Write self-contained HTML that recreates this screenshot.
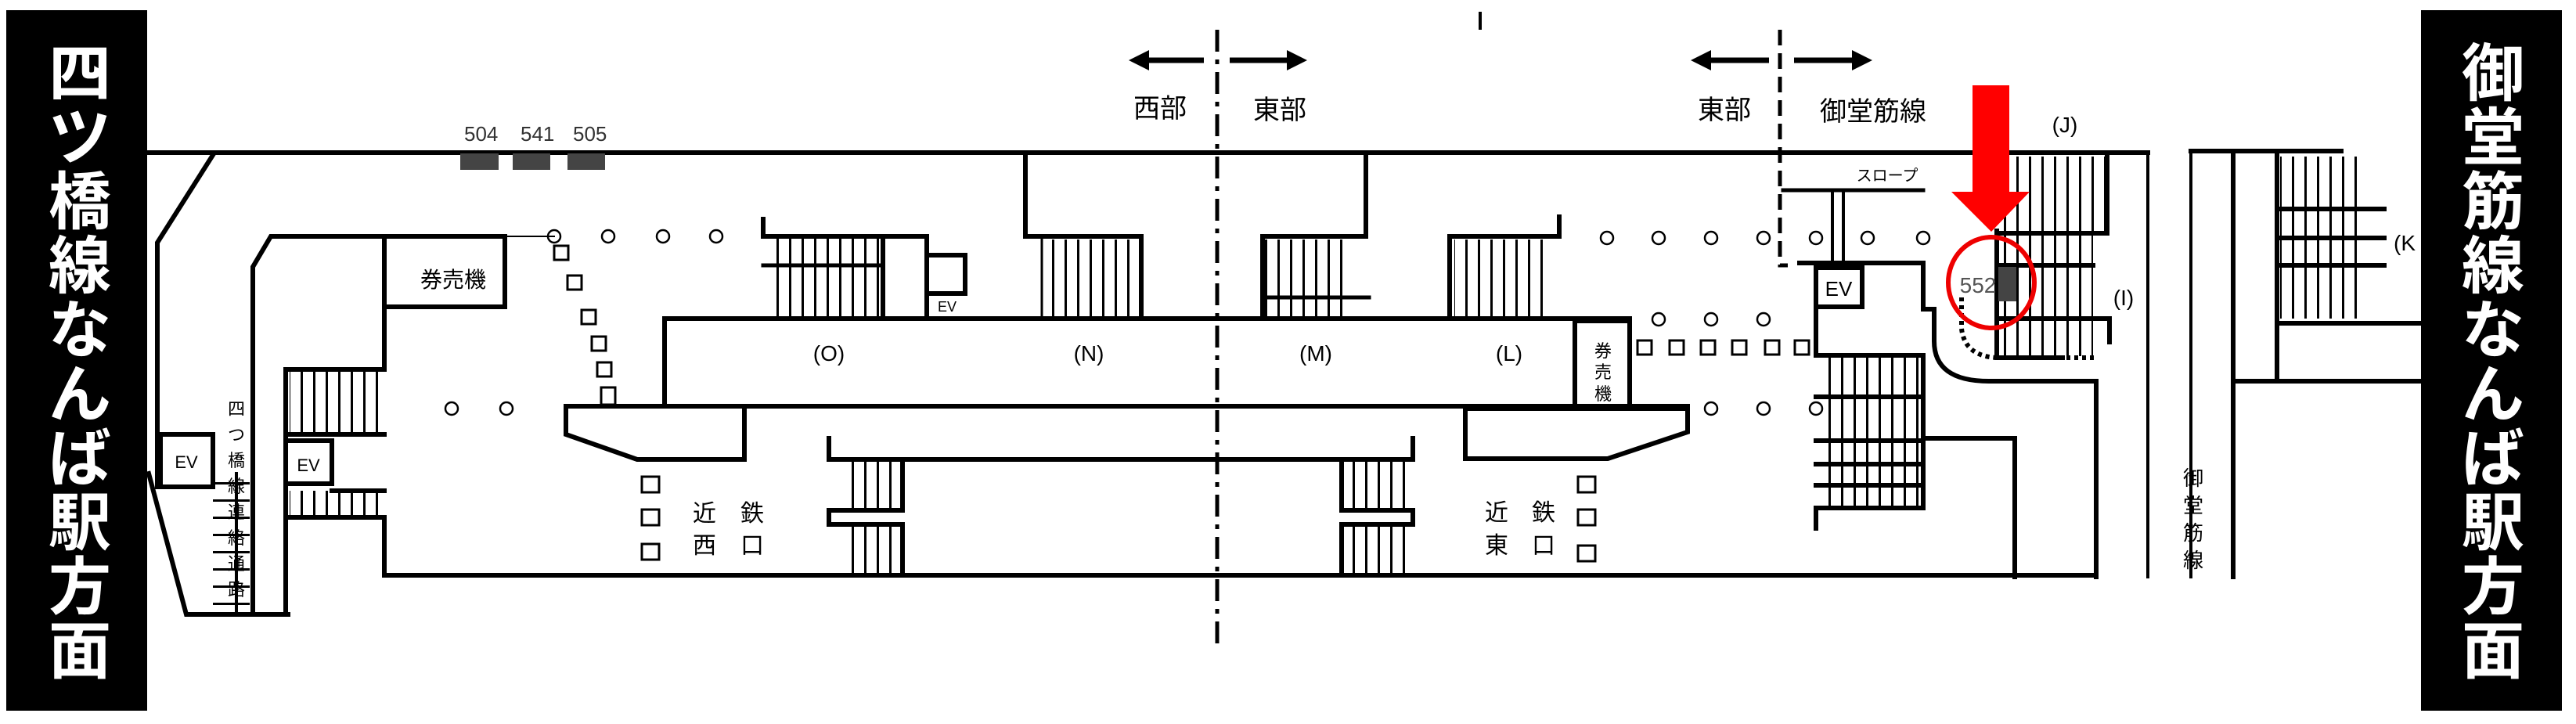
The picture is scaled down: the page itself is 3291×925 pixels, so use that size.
<!DOCTYPE html>
<html><head><meta charset="utf-8"><style>
html,body{margin:0;padding:0;background:#fff;}
svg{display:block;}
text{font-family:"Liberation Sans","Noto Sans CJK JP",sans-serif;}
</style></head><body>
<svg width="3291" height="925" viewBox="0 0 3291 925" xmlns="http://www.w3.org/2000/svg">
<defs>
<pattern id="vs" width="16" height="10" patternUnits="userSpaceOnUse"><rect x="0" y="0" width="3" height="10" fill="#000"/></pattern>
<pattern id="hs" width="10" height="22" patternUnits="userSpaceOnUse"><rect x="0" y="0" width="10" height="3" fill="#000"/></pattern>
</defs>
<rect width="3291" height="925" fill="#fff"/>

<rect x="8" y="13" width="180" height="895" fill="#000"/>
<rect x="3093" y="13" width="180" height="895" fill="#000"/>
<g fill="#fff" font-size="80" font-weight="bold" text-anchor="middle">
<text x="102" y="122">四</text><text x="102" y="204">ツ</text><text x="102" y="286">橋</text><text x="102" y="368">線</text><text x="102" y="450">な</text><text x="102" y="532">ん</text><text x="102" y="614">ば</text><text x="102" y="696">駅</text><text x="102" y="778">方</text><text x="102" y="860">面</text>
<text x="3185" y="122">御</text><text x="3185" y="204">堂</text><text x="3185" y="286">筋</text><text x="3185" y="368">線</text><text x="3185" y="450">な</text><text x="3185" y="532">ん</text><text x="3185" y="614">ば</text><text x="3185" y="696">駅</text><text x="3185" y="778">方</text><text x="3185" y="860">面</text>
</g>

<g>
<rect x="370" y="475" width="121" height="80" fill="url(#vs)"/>
<rect x="370" y="627" width="121" height="34" fill="url(#vs)"/>
<rect x="980" y="302" width="148" height="105" fill="url(#vs)"/>
<rect x="1331" y="306" width="125" height="101" fill="url(#vs)"/>
<rect x="1616" y="306" width="110" height="101" fill="url(#vs)"/>
<rect x="1858" y="306" width="122" height="101" fill="url(#vs)"/>
<rect x="1075" y="590" width="78" height="62" fill="url(#vs)"/>
<rect x="1075" y="670" width="78" height="64" fill="url(#vs)"/>
<rect x="1716" y="590" width="84" height="62" fill="url(#vs)"/>
<rect x="1716" y="670" width="84" height="64" fill="url(#vs)"/>
<rect x="2334" y="457" width="120" height="190" fill="url(#vs)"/>
<rect x="2555" y="200" width="137" height="98" fill="url(#vs)"/>
<rect x="2555" y="300" width="119" height="155" fill="url(#vs)"/>
<rect x="2913" y="200" width="108" height="207" fill="url(#vs)"/>
<rect x="272" y="605" width="47" height="180" fill="url(#hs)"/>
</g>

<g fill="none" stroke="#000" stroke-width="6" stroke-linecap="square">
<line x1="188" y1="195" x2="2744" y2="195"/>
<line x1="491" y1="735" x2="2678" y2="735"/>
<polyline points="272,198 201,310 201,622"/>
<polyline points="190,605 238,785 368,785"/>
<line x1="302" y1="605" x2="302" y2="785" stroke-width="4"/>
<rect x="205" y="555" width="67" height="67"/>
<polyline points="323,785 323,341 346,302 645,302"/>
<line x1="645" y1="302" x2="708" y2="302" stroke-width="2"/>
<line x1="365" y1="472" x2="365" y2="785"/>
<rect x="491" y="302" width="154" height="90"/>
<line x1="491" y1="392" x2="491" y2="472"/>
<line x1="365" y1="472" x2="491" y2="472"/>
<line x1="365" y1="555" x2="491" y2="555"/>
<rect x="365" y="563" width="59" height="55"/>
<line x1="424" y1="627" x2="491" y2="627"/>
<line x1="365" y1="661" x2="491" y2="661"/>
<line x1="491" y1="661" x2="491" y2="735"/>
<polyline points="849,519 849,407 2082,407 2082,519"/>
<line x1="723" y1="519" x2="2156" y2="519"/>
<polygon points="723,519 951,519 951,587 814,587 723,555"/>
<polygon points="1872,522 2156,522 2156,552 2054,586 1872,586"/>
<rect x="2012" y="410" width="70" height="109"/>
<polyline points="975,280 975,302 1128,302"/>
<line x1="975" y1="339" x2="1128" y2="339" stroke-width="5"/>
<rect x="1128" y="302" width="56" height="105"/>
<rect x="1184" y="326" width="49" height="49"/>
<polyline points="1310,198 1310,302 1458,302 1458,407"/>
<line x1="1331" y1="306" x2="1331" y2="407" stroke-width="3"/>
<polyline points="1745,198 1745,302 1613,302 1613,407"/>
<line x1="1616" y1="380" x2="1749" y2="380" stroke-width="5"/>
<polyline points="1852,407 1852,302 1992,302 1992,277"/>
<polyline points="1059,560 1059,587 1805,587 1805,560"/>
<polyline points="1153,587 1153,652 1059,652 1059,670 1153,670 1153,735"/>
<polyline points="1714,587 1714,652 1805,652 1805,670 1714,670 1714,735"/>
<path d="M2299,336 L2457,336 L2457,395 L2471,395 L2471,436 Q2471,487 2541,487 L2678,487 L2678,737"/>
<rect x="2320" y="342" width="59" height="50"/>
<polyline points="2320,336 2320,454 2457,454 2457,649 2320,649 2320,675"/>
<line x1="2320" y1="507" x2="2457" y2="507"/>
<line x1="2320" y1="563" x2="2457" y2="563"/>
<line x1="2320" y1="593" x2="2457" y2="593"/>
<line x1="2320" y1="620" x2="2457" y2="620"/>
<polyline points="2457,560 2574,560 2574,737"/>
<line x1="2278" y1="243" x2="2457" y2="243" stroke-width="5"/>
<line x1="2341" y1="243" x2="2341" y2="333" stroke-width="4"/>
<line x1="2355" y1="243" x2="2355" y2="333" stroke-width="4"/>
<line x1="2551" y1="295" x2="2551" y2="457"/>
<polyline points="2551,298 2692,298 2692,198"/>
<line x1="2555" y1="339" x2="2674" y2="339"/>
<polyline points="2551,407 2695,407 2695,437"/>
<line x1="2551" y1="457" x2="2635" y2="457"/>
<line x1="2744" y1="195" x2="2744" y2="737" stroke-width="4"/>
<line x1="2799" y1="193" x2="2991" y2="193"/>
<line x1="2799" y1="193" x2="2799" y2="737" stroke-width="4"/>
<line x1="2853" y1="198" x2="2853" y2="737"/>
<line x1="2909" y1="198" x2="2909" y2="487"/>
<line x1="2909" y1="267" x2="3046" y2="267"/>
<line x1="2909" y1="304" x2="3046" y2="304"/>
<line x1="2909" y1="339" x2="3046" y2="339"/>
<line x1="2909" y1="413" x2="3093" y2="413"/>
<line x1="2853" y1="487" x2="3093" y2="487"/>
</g>
<g fill="none" stroke="#000" stroke-width="6" stroke-dasharray="5,5">
<line x1="2640" y1="457" x2="2680" y2="457"/>
<path d="M2506,380 L2506,420 Q2510,455 2551,457"/>
</g>
<line x1="1555" y1="38" x2="1555" y2="826" stroke="#000" stroke-width="5" stroke-dasharray="28,10,6,10"/>
<polyline points="2274,38 2274,339 2284,339" fill="none" stroke="#000" stroke-width="5" stroke-dasharray="20,10"/>
<line x1="1891" y1="15" x2="1891" y2="38" stroke="#000" stroke-width="4"/>
<g stroke="#000" stroke-width="7" fill="#000">
<line x1="1460" y1="77" x2="1538" y2="77"/><polygon points="1442,77 1468,64 1468,90" stroke="none"/>
<line x1="1571" y1="77" x2="1650" y2="77"/><polygon points="1670,77 1644,64 1644,90" stroke="none"/>
<line x1="2178" y1="77" x2="2260" y2="77"/><polygon points="2160,77 2186,64 2186,90" stroke="none"/>
<line x1="2292" y1="77" x2="2372" y2="77"/><polygon points="2392,77 2366,64 2366,90" stroke="none"/>
</g>
<g fill="#444">
<rect x="588" y="196" width="49" height="21"/><rect x="655" y="196" width="48" height="21"/><rect x="725" y="196" width="48" height="21"/>
<rect x="2553" y="341" width="23" height="44"/>
</g>
<g fill="none" stroke="#000" stroke-width="2.5">
<circle cx="708" cy="302" r="8"/><circle cx="777" cy="302" r="8"/><circle cx="847" cy="302" r="8"/><circle cx="915" cy="302" r="8"/>
<circle cx="577" cy="522" r="8"/><circle cx="647" cy="522" r="8"/>
<circle cx="2053" cy="304" r="8"/><circle cx="2119" cy="304" r="8"/><circle cx="2186" cy="304" r="8"/><circle cx="2253" cy="304" r="8"/><circle cx="2320" cy="304" r="8"/><circle cx="2386" cy="304" r="8"/><circle cx="2457" cy="304" r="8"/>
<circle cx="2119" cy="408" r="8"/><circle cx="2186" cy="408" r="8"/><circle cx="2253" cy="408" r="8"/>
<circle cx="2186" cy="522" r="8"/><circle cx="2253" cy="522" r="8"/><circle cx="2320" cy="522" r="8"/>
</g>
<g fill="#fff" stroke="#000" stroke-width="3">
<rect x="708" y="314" width="18" height="18"/><rect x="725" y="352" width="18" height="18"/><rect x="743" y="396" width="18" height="18"/><rect x="756" y="430" width="18" height="18"/><rect x="763" y="463" width="18" height="18"/><rect x="768" y="495" width="18" height="22"/>
<rect x="820" y="609" width="22" height="20"/><rect x="820" y="651" width="22" height="20"/><rect x="820" y="695" width="22" height="20"/>
<rect x="2016" y="609" width="22" height="20"/><rect x="2016" y="651" width="22" height="20"/><rect x="2016" y="697" width="22" height="20"/>
<rect x="2092" y="435" width="18" height="18"/><rect x="2133" y="435" width="18" height="18"/><rect x="2173" y="435" width="18" height="18"/><rect x="2213" y="435" width="18" height="18"/><rect x="2255" y="435" width="18" height="18"/><rect x="2293" y="435" width="18" height="18"/>
</g>
<rect x="2520" y="109" width="47" height="138" fill="#f00"/>
<polygon points="2493,245 2593,245 2544,296" fill="#f00"/>
<ellipse cx="2544" cy="361" rx="55" ry="58" fill="none" stroke="#e00" stroke-width="6"/>
<g fill="#000" font-size="26">
<text x="593" y="180" fill="#333">504</text><text x="665" y="180" fill="#333">541</text><text x="732" y="180" fill="#333">505</text>
<text x="579" y="367" text-anchor="middle" font-size="28">券売機</text>
<text x="1059" y="461" text-anchor="middle" font-size="28">(O)</text>
<text x="1391" y="461" text-anchor="middle" font-size="28">(N)</text>
<text x="1681" y="461" text-anchor="middle" font-size="28">(M)</text>
<text x="1928" y="461" text-anchor="middle" font-size="28">(L)</text>
<text x="1210" y="398" text-anchor="middle" font-size="18">EV</text>
<text x="238" y="598" text-anchor="middle" font-size="22">EV</text>
<text x="394" y="602" text-anchor="middle" font-size="22">EV</text>
<text x="2349" y="378" text-anchor="middle" font-size="26">EV</text>
<g font-size="22" text-anchor="middle"><text x="2048" y="456">券</text><text x="2048" y="483">売</text><text x="2048" y="511">機</text></g>
<g font-size="30" text-anchor="middle">
<text x="900" y="666">近</text><text x="961" y="666">鉄</text><text x="900" y="707">西</text><text x="961" y="707">口</text>
<text x="1912" y="665">近</text><text x="1972" y="665">鉄</text><text x="1912" y="707">東</text><text x="1972" y="707">口</text>
</g>
<g font-size="34" text-anchor="middle">
<text x="1482" y="150">西部</text><text x="1635" y="152">東部</text><text x="2203" y="152">東部</text><text x="2393" y="154">御堂筋線</text>
</g>
<text x="2411" y="231" text-anchor="middle" font-size="20">スロープ</text>
<text x="2638" y="169" text-anchor="middle" font-size="28">(J)</text>
<text x="2713" y="390" text-anchor="middle" font-size="28">(I)</text>
<text x="3058" y="320" font-size="28">(K</text>
<text x="2527" y="374" text-anchor="middle" font-size="28" fill="#555">552</text>
<g font-size="22" text-anchor="middle"><text x="302" y="530">四</text><text x="302" y="563">つ</text><text x="302" y="596">橋</text><text x="302" y="629">線</text><text x="302" y="662">連</text><text x="302" y="695">絡</text><text x="302" y="728">通</text><text x="302" y="761">路</text></g>
<g font-size="26" text-anchor="middle"><text x="2802" y="620">御</text><text x="2802" y="655">堂</text><text x="2802" y="690">筋</text><text x="2802" y="725">線</text></g>
</g>
</svg>
</body></html>
